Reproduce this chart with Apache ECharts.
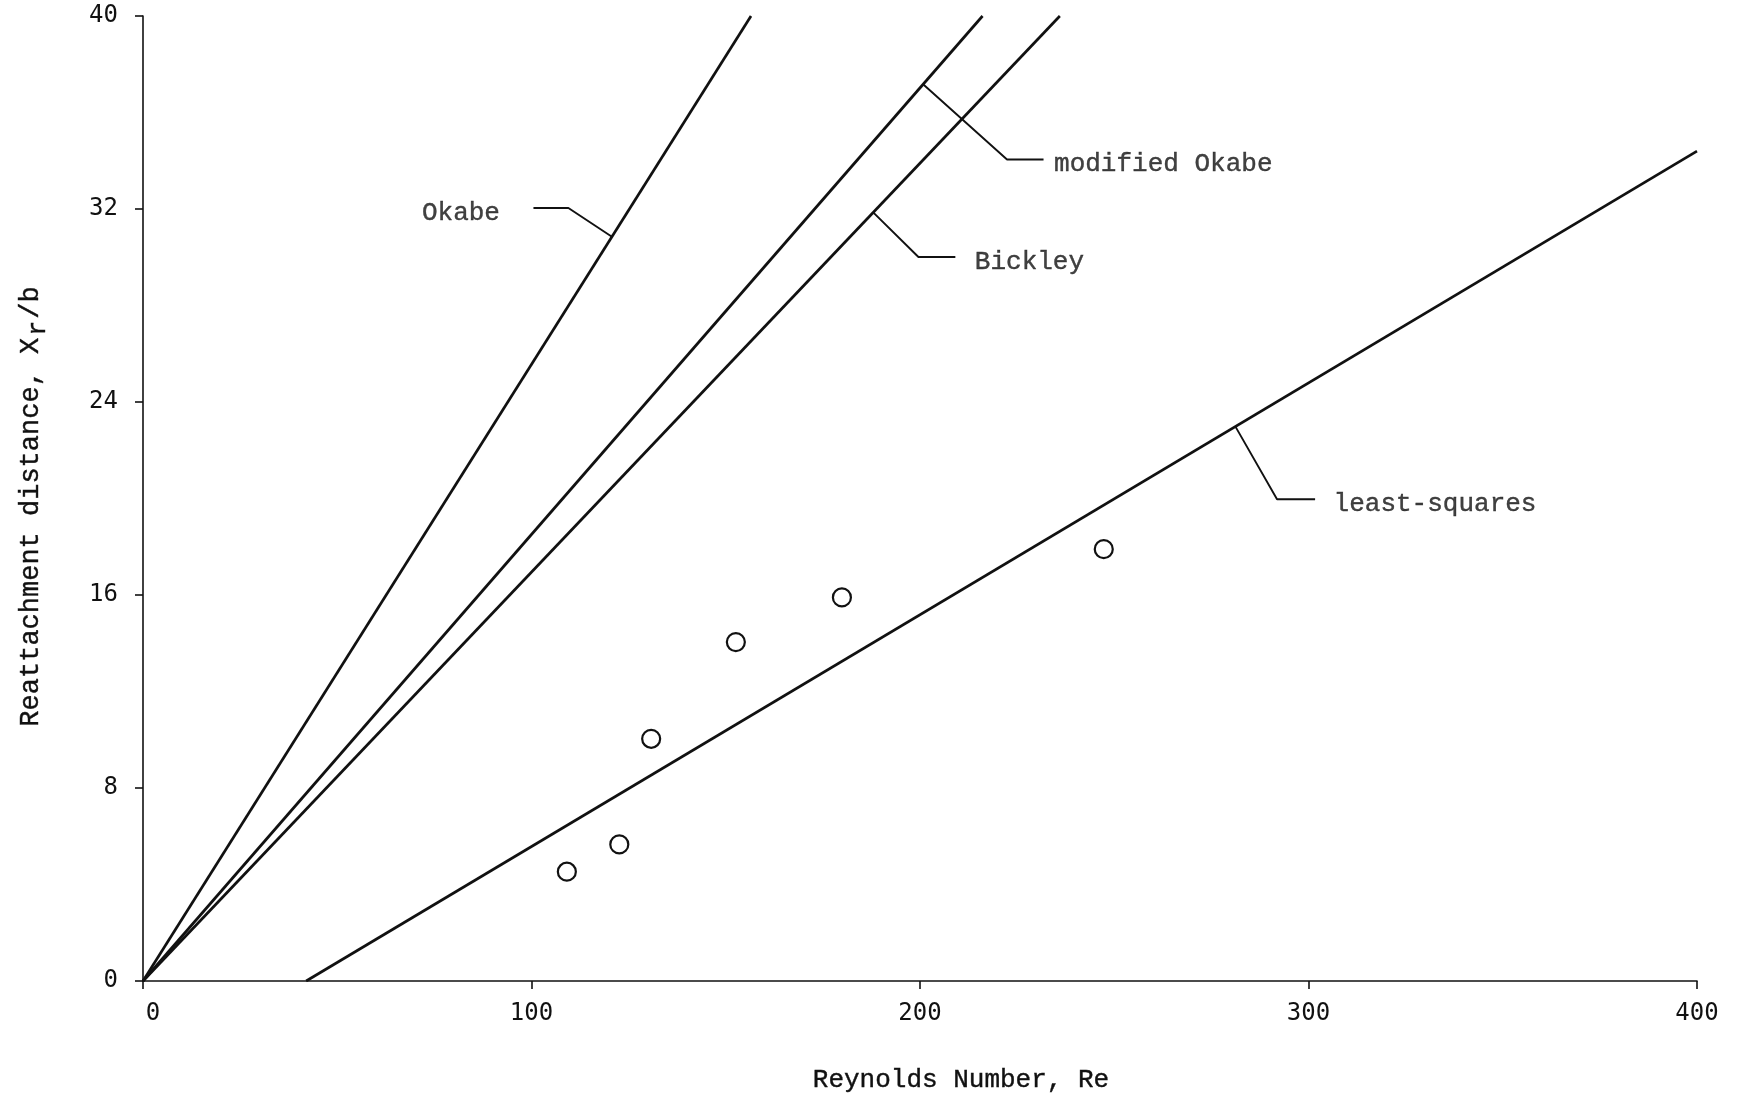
<!DOCTYPE html>
<html>
<head>
<meta charset="utf-8">
<style>
  html, body { margin: 0; padding: 0; background: #ffffff; }
  #chart { width: 1748px; height: 1102px; }
</style>
<script src="https://cdn.jsdelivr.net/npm/echarts@6/dist/echarts.min.js"></script>
</head>
<body>
<div id="chart"></div>
<script>
// ---- data ----
const xTicks = [0, 100, 200, 300, 400];
const yTicks = [0, 8, 16, 24, 32, 40];

// measured reattachment distances (open circles)
const measuredRe = [109.1, 122.6, 130.8, 152.6, 179.9, 247.3];
const measuredXr = [4.53, 5.66, 10.04, 14.05, 15.9, 17.9];

// straight-line correlations (end points)
const okabeRe = [0, 156.5];
const okabeXr = [0, 40];
const modOkabeRe = [0, 216.1];
const modOkabeXr = [0, 40];
const bickleyRe = [0, 236];
const bickleyXr = [0, 40];
const lsqRe = [42, 400];
const lsqXr = [0, 34.4];

// annotation leader lines (data coordinates), label at last point
const okabeLeadRe = [120.7, 109.5, 100.5];
const okabeLeadXr = [30.85, 32.04, 32.04];
const modLeadRe = [200.8, 222.4, 231.8];
const modLeadXr = [37.17, 34.05, 34.05];
const bickLeadRe = [187.95, 199.6, 209.1];
const bickLeadXr = [31.86, 30.01, 30.01];
const lsqLeadRe = [281.2, 291.9, 301.7];
const lsqLeadXr = [22.98, 19.97, 19.97];

const lineNames = ['Okabe', 'modified Okabe', 'Bickley', 'least-squares'];

// ---- helpers ----
function pairs(xs, ys) { return xs.map((x, i) => [x, ys[i]]); }

const MONO = '"Liberation Mono", "DejaVu Sans Mono", monospace';
const TICKFONT = '"DejaVu Sans Mono", monospace';
const INK = '#111111';
const THICK = { textBorderColor: INK, textBorderWidth: 0.4 };

function corrLine(name, xs, ys) {
  return {
    name: name, type: 'line', data: pairs(xs, ys),
    showSymbol: false, symbol: 'none', silent: true,
    lineStyle: { color: INK, width: 2.7 }, z: 3
  };
}

function leader(xs, ys) {
  return {
    type: 'line', data: pairs(xs, ys), showSymbol: false, symbol: 'none', silent: true,
    lineStyle: { color: INK, width: 1.9 }, z: 2
  };
}

function labelItem(text, xs, ys, pos, dist) {
  const n = xs.length - 1;
  return {
    value: [xs[n], ys[n]],
    label: Object.assign({
      show: true, position: pos, distance: dist, formatter: text,
      fontFamily: MONO, fontSize: 26, color: INK, offset: [0, 5]
    }, THICK)
  };
}

const chart = echarts.init(document.getElementById('chart'), null, { renderer: 'canvas' });

chart.setOption({
  animation: false,
  backgroundColor: '#ffffff',
  grid: { left: 143, right: 51, top: 16, bottom: 121 },
  xAxis: {
    type: 'value',
    min: xTicks[0], max: xTicks[xTicks.length - 1],
    interval: xTicks[1] - xTicks[0],
    name: 'Reynolds Number, Re',
    nameLocation: 'middle',
    nameGap: 86,
    nameTextStyle: Object.assign({ fontFamily: MONO, fontSize: 26, color: INK, padding: [0, 0, 0, 82] }, THICK),
    axisLine: { show: true, onZero: false, lineStyle: { color: INK, width: 1.6 } },
    axisTick: { show: true, inside: false, length: 8, lineStyle: { color: INK, width: 1.6 } },
    splitLine: { show: false },
    axisLabel: {
      margin: 21, color: INK, fontFamily: TICKFONT, fontSize: 24,
      formatter: function (v) { return v === 0 ? '{z|0}' : String(v); },
      rich: { z: { fontFamily: TICKFONT, fontSize: 24, color: INK, padding: [0, 0, 0, 20] } }
    }
  },
  yAxis: {
    type: 'value',
    min: yTicks[0], max: yTicks[yTicks.length - 1],
    interval: yTicks[1] - yTicks[0],
    name: '{a|Reattachment distance, X}{s|r}{a|/b}',
    nameLocation: 'middle',
    nameRotate: 90,
    nameGap: 96,
    nameTextStyle: {
      fontFamily: MONO, fontSize: 27, color: INK, padding: [0, 16, 0, 0],
      rich: {
        a: Object.assign({ fontFamily: MONO, fontSize: 27, color: INK, lineHeight: 30, verticalAlign: 'top' }, THICK),
        s: Object.assign({ fontFamily: MONO, fontSize: 25, color: INK, lineHeight: 28, padding: [9, 2, 0, 2], verticalAlign: 'top' }, THICK)
      }
    },
    axisLine: { show: true, onZero: false, lineStyle: { color: INK, width: 1.6 } },
    axisTick: { show: true, inside: false, length: 8, lineStyle: { color: INK, width: 1.6 } },
    splitLine: { show: false },
    axisLabel: { margin: 25, color: INK, fontFamily: TICKFONT, fontSize: 24 }
  },
  series: [
    corrLine(lineNames[0], okabeRe, okabeXr),
    corrLine(lineNames[1], modOkabeRe, modOkabeXr),
    corrLine(lineNames[2], bickleyRe, bickleyXr),
    corrLine(lineNames[3], lsqRe, lsqXr),
    leader(okabeLeadRe, okabeLeadXr),
    leader(modLeadRe, modLeadXr),
    leader(bickLeadRe, bickLeadXr),
    leader(lsqLeadRe, lsqLeadXr),
    {
      name: 'labels', type: 'scatter', silent: true,
      symbol: 'circle', symbolSize: 1,
      itemStyle: { color: 'rgba(0,0,0,0)' },
      data: [
        labelItem(lineNames[0], okabeLeadRe, okabeLeadXr, 'left', 33),
        labelItem(lineNames[1], modLeadRe, modLeadXr, 'right', 10),
        labelItem(lineNames[2], bickLeadRe, bickLeadXr, 'right', 19),
        labelItem(lineNames[3], lsqLeadRe, lsqLeadXr, 'right', 18)
      ],
      z: 5
    },
    {
      name: 'measured', type: 'scatter', data: pairs(measuredRe, measuredXr),
      symbol: 'circle', symbolSize: 18, silent: true,
      itemStyle: { color: '#ffffff', borderColor: INK, borderWidth: 2.2, opacity: 1 },
      z: 4
    }
  ]
});
</script>
</body>
</html>
